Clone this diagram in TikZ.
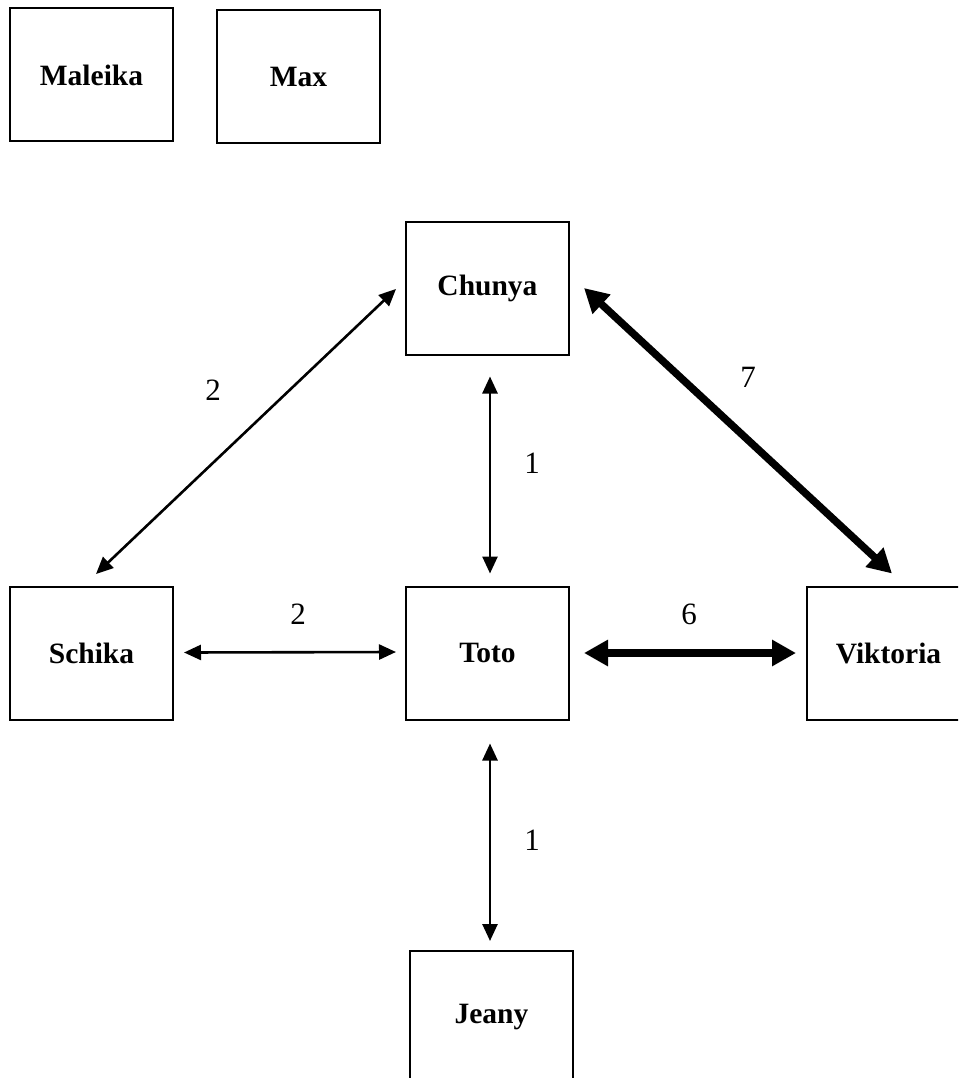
\documentclass[tikz,border=0pt]{standalone}
\usepackage{fontspec}
\setmainfont{Liberation Serif}
\usetikzlibrary{arrows.meta,calc}

\tikzset{
  person/.style={draw, line width=2pt, rectangle, minimum width=163pt, minimum height=133pt,
    inner sep=0pt, font=\fontsize{29.5}{30}\selectfont\bfseries},
  thin link/.style={line width=2.6pt, {Triangle[length=17pt,width=15pt]}-{Triangle[length=17pt,width=15pt]}},
  thick link/.style={line width=7.5pt, {Triangle[length=24pt,width=25pt]}-{Triangle[length=24pt,width=25pt]}},
  weight/.style={font=\fontsize{31}{32}\selectfont, inner sep=0pt}
}

\begin{document}
\begin{tikzpicture}[x=1pt,y=-1pt]
  \useasboundingbox (0,0) rectangle (958,1078);
  \clip (0,0) rectangle (958,1078);

  % people
  \node[person] (M)  at (91.5,75)   {Maleika};
  \node[person] (X)  at (298.5,76.5){Max};
  \node[person] (C)  at (487.5,288) {Chunya};
  \node[person] (S)  at (91.5,653.5){Schika};
  \node[person] (T)  at (487.5,653) {Toto};
  \node[person] (V)  at (888.5,653) {Viktoria};
  \node[person] (J)  at (491.5,1017.5){Jeany};

  % connection end points
  \coordinate (sc1) at ($(S.north)+(4.5,-12)$);
  \coordinate (sc2) at ($(C.west)+(-9,1)$);
  \coordinate (ct1) at ($(C.south)+(2.5,21)$);
  \coordinate (ct2) at ($(T.north)+(2.5,-12)$);
  \coordinate (cv1) at ($(C.east)+(14,0)$);
  \coordinate (cv2) at ($(V.north)+(3.5,-12)$);
  \coordinate (st1) at ($(S.east)+(10,-1)$);
  \coordinate (st2) at ($(T.west)+(-9,-1)$);
  \coordinate (tv1) at ($(T.east)+(14,0)$);
  \coordinate (tv2) at ($(V.west)+(-10,0)$);
  \coordinate (tj1) at ($(T.south)+(2.5,23)$);
  \coordinate (tj2) at ($(J.north)+(-1.5,-9)$);

  % connections
  \draw[thin link] (sc1) -- (sc2);
  \draw[thin link] (ct1) -- (ct2);
  \draw[thick link] (cv1) -- (cv2);
  \draw[thin link] (st1) -- (st2);
  \draw[thick link] (tv1) -- (tv2);
  \draw[thin link] (tj1) -- (tj2);

  % weights
  \node[weight] (w1) at (213,390) {2};
  \node[weight] (w2) at (532,463) {1};
  \node[weight] (w3) at (748,377) {7};
  \node[weight] (w4) at (298,614) {2};
  \node[weight] (w5) at (689,614) {6};
  \node[weight] (w6) at (532,840) {1};
\end{tikzpicture}
\end{document}
